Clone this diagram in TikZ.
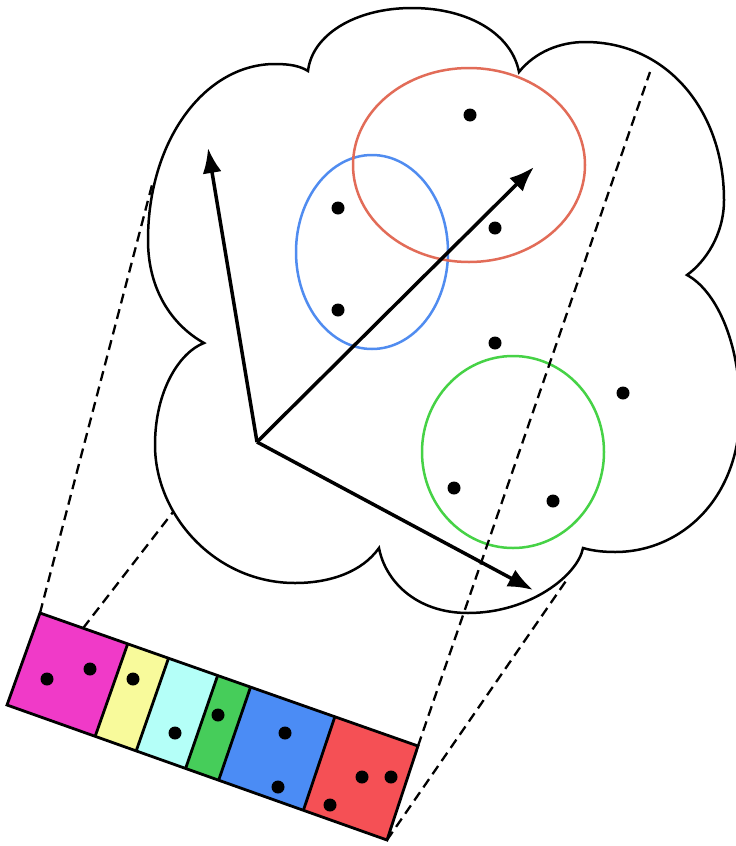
\documentclass[tikz,border=0pt]{standalone}
\usetikzlibrary{arrows.meta,calc}
\definecolor{cmag}{RGB}{240,58,200}
\definecolor{cyel}{RGB}{248,250,155}
\definecolor{ccya}{RGB}{180,255,248}
\definecolor{cgrn}{RGB}{70,205,90}
\definecolor{cblu}{RGB}{75,140,245}
\definecolor{cred}{RGB}{245,80,85}
\definecolor{ered}{RGB}{226,108,88}
\definecolor{eblu}{RGB}{80,140,240}
\definecolor{egrn}{RGB}{70,210,70}
\begin{document}
\begin{tikzpicture}[x=1pt,y=-1pt,
  dot/.style={circle,fill=black,inner sep=0pt,minimum size=13pt},
  dashline/.style={line width=2.3pt,dash pattern=on 10pt off 6pt},
  cloudline/.style={line width=2.5pt,fill=white,line join=miter},
  ring/.style={line width=2.5pt},
  vec/.style={line width=3.5pt,-{Latex[length=25pt,width=19pt]}},
  cellline/.style={line width=2.8pt,line join=miter}]
\useasboundingbox (0,0) rectangle (736,846);
% strip corners
\coordinate (TL) at (40,613);
\coordinate (TR) at (418,746);
\coordinate (BR) at (387,840);
\coordinate (BL) at (7,705);
\coordinate (t1) at ($(TL)!0.232!(TR)$); \coordinate (b1) at ($(BL)!0.232!(BR)$);
\coordinate (t2) at ($(TL)!0.340!(TR)$); \coordinate (b2) at ($(BL)!0.340!(BR)$);
\coordinate (t3) at ($(TL)!0.470!(TR)$); \coordinate (b3) at ($(BL)!0.470!(BR)$);
\coordinate (t4) at ($(TL)!0.557!(TR)$); \coordinate (b4) at ($(BL)!0.557!(BR)$);
\coordinate (t5) at ($(TL)!0.780!(TR)$); \coordinate (b5) at ($(BL)!0.780!(BR)$);
\coordinate (tin) at ($(TL)!0.114!(TR)$);
% projection ends on the cloud
\coordinate (c1) at (152,185);
\coordinate (c2) at (180,503);
\coordinate (c3) at (568,578);
\coordinate (c4) at (650,72);
% hidden projection lines (cut by cloud)
\draw[dashline] (TL) -- (c1);
\draw[dashline] (tin) -- (c2);
\draw[dashline] (BR) -- (c3);
% cloud
\draw[cloudline] (308,71)
  .. controls (312,35) and (355,8) .. (412,8)
  .. controls (470,8) and (512,35) .. (519,72)
  .. controls (535,52) and (560,42) .. (585,42)
  .. controls (668,42) and (724,112) .. (724,200)
  .. controls (724,235) and (705,262) .. (687,275)
  .. controls (715,290) and (740,340) .. (740,410)
  .. controls (740,500) and (680,552) .. (615,552)
  .. controls (600,552) and (590,550) .. (583,548)
  .. controls (578,575) and (530,613) .. (468,613)
  .. controls (415,613) and (385,580) .. (379,548)
  .. controls (362,572) and (330,583) .. (295,583)
  .. controls (215,583) and (155,515) .. (155,445)
  .. controls (155,390) and (180,352) .. (204,343)
  .. controls (172,325) and (148,290) .. (148,240)
  .. controls (148,140) and (205,64) .. (275,64)
  .. controls (290,64) and (300,66) .. (308,71) -- cycle;
% clusters
\draw[ring,eblu] (372,252) ellipse [x radius=76, y radius=97];
\draw[ring,ered] (469,165) ellipse [x radius=116, y radius=97];
\draw[ring,egrn] (513,452) ellipse [x radius=91, y radius=96];
% basis vectors
\coordinate (O) at (257,442);
\coordinate (v1) at (208,148);
\coordinate (v2) at (534,167);
\coordinate (v3) at (533,590);
\draw[vec] (O) -- (v1);
\draw[vec] (O) -- (v2);
\draw[vec] (O) -- (v3);
% points
\node[dot] (p1) at (470,115) {};
\node[dot] (p2) at (338,208) {};
\node[dot] (p3) at (495,228) {};
\node[dot] (p4) at (338,310) {};
\node[dot] (p5) at (495,343) {};
\node[dot] (p6) at (623,393) {};
\node[dot] (p7) at (454,488) {};
\node[dot] (p8) at (553,501) {};
% visible projection line
\draw[dashline] (TR) -- (c4);
% strip cells
\fill[cmag] (TL) -- (t1) -- (b1) -- (BL) -- cycle;
\fill[cyel] (t1) -- (t2) -- (b2) -- (b1) -- cycle;
\fill[ccya] (t2) -- (t3) -- (b3) -- (b2) -- cycle;
\fill[cgrn] (t3) -- (t4) -- (b4) -- (b3) -- cycle;
\fill[cblu] (t4) -- (t5) -- (b5) -- (b4) -- cycle;
\fill[cred] (t5) -- (TR) -- (BR) -- (b5) -- cycle;
\draw[cellline] (TL) -- (TR) -- (BR) -- (BL) -- cycle;
\draw[cellline] (t1) -- (b1);
\draw[cellline] (t2) -- (b2);
\draw[cellline] (t3) -- (b3);
\draw[cellline] (t4) -- (b4);
\draw[cellline] (t5) -- (b5);
% strip points
\node[dot] (s1) at (47,679) {};
\node[dot] (s2) at (90,669) {};
\node[dot] (s3) at (133,679) {};
\node[dot] (s4) at (175,733) {};
\node[dot] (s5) at (218,715) {};
\node[dot] (s6) at (285,733) {};
\node[dot] (s7) at (278,787) {};
\node[dot] (s8) at (362,777) {};
\node[dot] (s9) at (391,777) {};
\node[dot] (s10) at (330,805) {};
\end{tikzpicture}
\end{document}
